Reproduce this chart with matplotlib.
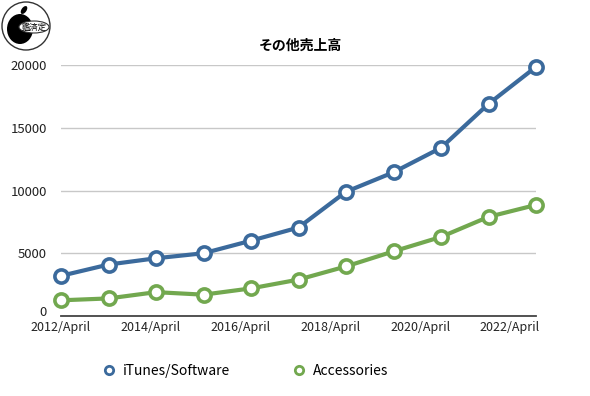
import matplotlib
matplotlib.use("Agg")
import matplotlib.pyplot as plt
from matplotlib.lines import Line2D
from matplotlib.patches import Circle, Ellipse
import numpy as np

plt.rcParams['font.family'] = ['Noto Sans CJK JP', 'DejaVu Sans']

title = "その他売上高"
periods = ["2012/April", "2013/April", "2014/April", "2015/April", "2016/April", "2017/April",
           "2018/April", "2019/April", "2020/April", "2021/April", "2022/April"]
tick_labels = ["2012/April", "2014/April", "2016/April", "2018/April", "2020/April", "2022/April"]
itunes = [3200, 4100, 4600, 5000, 6000, 7050, 9900, 11450, 13400, 16900, 19850]
accessories = [1250, 1400, 1900, 1700, 2200, 2900, 3950, 5150, 6300, 7900, 8850]
series_names = ["iTunes/Software", "Accessories"]
colors = ["#3b6a9c", "#72a84f"]

fig = plt.figure(figsize=(5.9, 3.96), dpi=100)
ax = fig.add_axes([61/590, 1-316/396, (536-61)/590, (316-65)/396])

x = np.arange(len(periods))
for vals, c in zip([itunes, accessories], colors):
    ax.plot(x, vals, color=c, lw=3, marker='o', ms=9.5, mfc='white', mec=c, mew=2.6,
            clip_on=False, zorder=3)

ax.set_xlim(0, len(periods) - 1)
ax.set_ylim(0, 20000)
ax.set_yticks([0, 5000, 10000, 15000, 20000])
ax.set_yticklabels(["0", "5000", "10000", "15000", "20000"])
ax.yaxis.grid(True, color='#c8c8c8', lw=1)
ax.set_axisbelow(True)
for s in ['left', 'right', 'top']:
    ax.spines[s].set_visible(False)
ax.spines['bottom'].set_color('#444444')
ax.spines['bottom'].set_linewidth(1.3)
ax.tick_params(axis='y', length=0, labelsize=9.5, pad=10, labelcolor='#222222')
ax.tick_params(axis='x', length=0, labelsize=9, pad=3.5, labelcolor='#222222')
ax.set_xticks(np.linspace(0, 9.45, len(tick_labels)))
ax.set_xticklabels(tick_labels)
for lbl in ax.get_yticklabels():
    if lbl.get_text() == "0":
        lbl.set_va('baseline')

fig.text(300/590, 1-46/396, title, ha='center', va='center', fontsize=10, fontweight='bold')

handles = [Line2D([], [], ls='none', marker='o', ms=6, mfc='white', mec=c, mew=2)
           for c in colors]
fig.legend(handles, series_names, loc='center left', bbox_to_anchor=(90/590, 1-371/396),
           ncol=2, frameon=False, fontsize=10, columnspacing=4.4, handletextpad=0.5,
           handlelength=1.0)

# logo watermark
lax = fig.add_axes([0, 1-52/396, 52/590, 52/396])
lax.set_xlim(0, 52); lax.set_ylim(0, 52); lax.axis('off')
lax.add_patch(Circle((26, 26), 24, fc='white', ec='#333333', lw=1))
lax.add_patch(Ellipse((20, 23), 26, 30, fc='black'))
lax.add_patch(Ellipse((24, 42), 5, 9, angle=-35, fc='black'))
lax.add_patch(Ellipse((34, 25), 30, 12, fc='white', ec='#333333', lw=0.8))
lax.text(34, 25, "鑑済定", ha='center', va='center', fontsize=6)

fig.savefig("out.png", dpi=100, facecolor='white')
